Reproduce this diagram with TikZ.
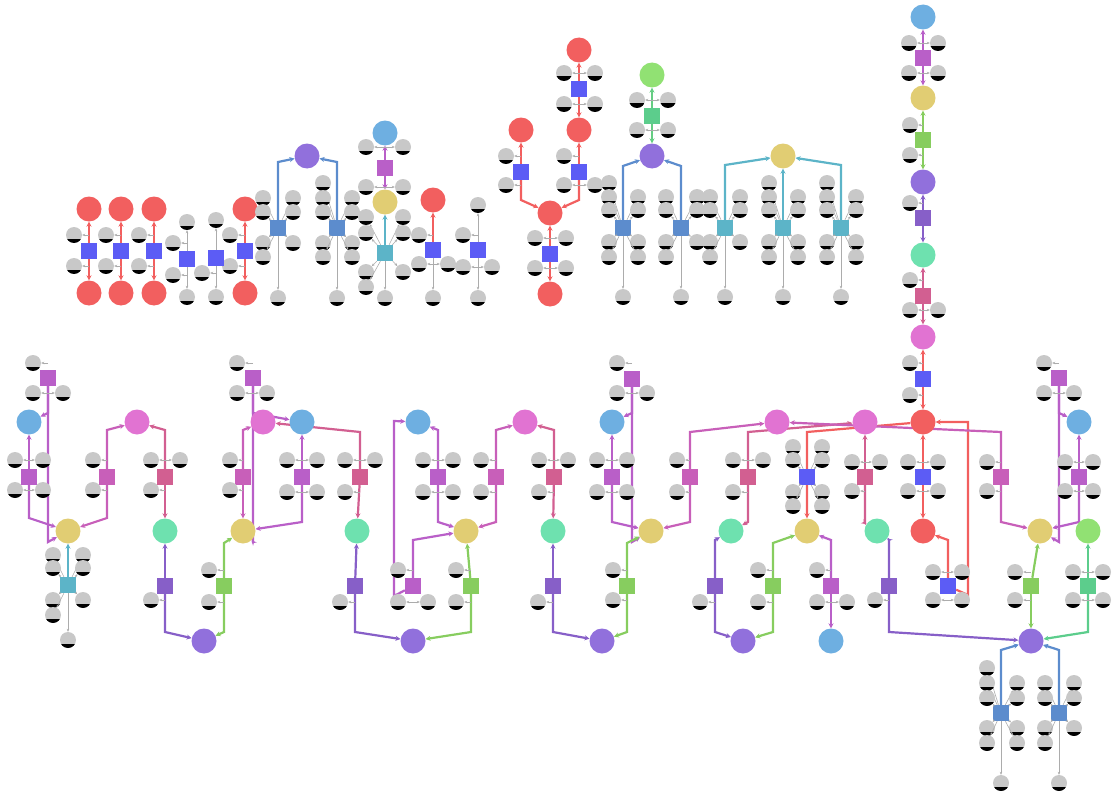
\documentclass[tikz,border=0pt]{standalone}
\usetikzlibrary{arrows.meta,backgrounds}
\definecolor{cred}{RGB}{242,95,95}
\definecolor{cblue}{RGB}{92,92,245}
\definecolor{csteel}{RGB}{92,140,205}
\definecolor{cviolet}{RGB}{145,112,220}
\definecolor{csky}{RGB}{110,175,225}
\definecolor{cyel}{RGB}{225,205,115}
\definecolor{corchid}{RGB}{185,95,200}
\definecolor{ccyan}{RGB}{92,180,200}
\definecolor{clime}{RGB}{145,225,115}
\definecolor{cgreen}{RGB}{135,205,95}
\definecolor{cmint}{RGB}{110,225,175}
\definecolor{cteal}{RGB}{92,205,140}
\definecolor{cpink}{RGB}{225,115,210}
\definecolor{cmag}{RGB}{200,95,185}
\definecolor{crose}{RGB}{210,95,145}
\definecolor{cindigo}{RGB}{135,95,200}
\definecolor{ctok}{RGB}{200,200,200}
% side tokens with a short stub, fan tokens, and one token straight above/below
\newcommand{\tks}[2]{\foreach \dx/\dy [count=\i] in {#2} {\node[tok] (#1t\i) at ([shift={(\dx,\dy)}]#1) {}; \draw[gline] (#1 |- #1t\i) -- (#1t\i);}}
\newcommand{\tkf}[2]{\foreach \dx/\dy [count=\i] in {#2} {\node[tok] (#1t\i) at ([shift={(\dx,\dy)}]#1) {}; \draw[gline] (#1) -- (#1t\i);}}
\newcommand{\tkb}[3]{\node[tok] (#1#2) at ([shift={(0,#3)}]#1) {}; \draw[gline] (#1) -- (#1#2);}
\begin{document}
\begin{tikzpicture}[x=1pt,y=-1pt,
    pl/.style={circle, minimum size=25pt, inner sep=0pt},
    tr/.style={rectangle, minimum size=16pt, inner sep=0pt},
    tok/.style={circle, minimum size=16pt, inner sep=0pt, fill=ctok,
        path picture={\fill[black] ([yshift=-3.5pt]path picture bounding box.west) rectangle (path picture bounding box.south east);}},
    gline/.style={draw=gray!65, line width=0.6pt, -{Stealth[length=3pt,width=2.5pt]}},
    ed/.style={line width=2.2pt, -{Stealth[length=5pt,width=5pt]}}
]
    \useasboundingbox (0,0) rectangle (1112,792);

    % top left: red columns
    \node[pl,fill=cred] (ra1) at (89,209) {};
    \node[tr,fill=cblue] (sa) at (89,251) {};
    \node[pl,fill=cred] (ra2) at (89,293) {};
    \node[pl,fill=cred] (rb1) at (121,209) {};
    \node[tr,fill=cblue] (sb) at (121,251) {};
    \node[pl,fill=cred] (rb2) at (121,293) {};
    \node[pl,fill=cred] (rc1) at (154,209) {};
    \node[tr,fill=cblue] (sc) at (154,251) {};
    \node[pl,fill=cred] (rc2) at (154,293) {};
    \node[pl,fill=cred] (rd1) at (245,209) {};
    \node[tr,fill=cblue] (sd) at (245,251) {};
    \node[pl,fill=cred] (rd2) at (245,293) {};
    \tks{sa}{-15/-16,-15/15}
    \tks{sb}{-15/-16,-15/15}
    \tks{sc}{-15/-16,-15/15}
    \tks{sd}{-15/-16,-15/15}
    \node[tr,fill=cblue] (se) at (187,259) {};
    \tks{se}{-14/-16,-14/16}
    \tkb{se}{u}{-37} \tkb{se}{b}{38}
    \node[tr,fill=cblue] (sf) at (216,258) {};
    \tks{sf}{-14/15}
    \tkb{sf}{u}{-38} \tkb{sf}{b}{39}

    % two steel transitions into violet
    \node[pl,fill=cviolet] (pv1) at (307,156) {};
    \node[tr,fill=csteel] (sg) at (278,228) {};
    \node[tr,fill=csteel] (sh) at (337,228) {};
    \tkf{sg}{-15/-30,15/-30,-15/-16,15/-16,-15/15,15/15,-15/29}
    \tkb{sg}{b}{70}
    \tkf{sh}{-14/-45,-14/-30,15/-30,-14/-16,15/-16,-14/15,15/15,-14/29,15/29}
    \tkb{sh}{b}{70}

    % sky / yellow stack
    \node[pl,fill=csky] (bc1) at (385,133) {};
    \node[tr,fill=corchid] (si) at (385,168) {};
    \node[pl,fill=cyel] (yc1) at (385,202) {};
    \node[tr,fill=ccyan] (sj) at (385,253) {};
    \tks{si}{-19/-21,18/-21,-19/19,18/19}
    \tkf{sj}{-19/-36,18/-36,-19/-20,18/-20,-19/19,18/19,-19/34}
    \tkb{sj}{b}{45}

    \node[pl,fill=cred] (rc5) at (433,200) {};
    \node[tr,fill=cblue] (sk) at (433,250) {};
    \tks{sk}{-14/-15,-14/14,15/14}
    \tkb{sk}{b}{48}
    \node[tr,fill=cblue] (sl) at (478,250) {};
    \tks{sl}{-15/-15,-15/17,14/17}
    \tkb{sl}{u}{-45} \tkb{sl}{b}{48}

    % red tree
    \node[pl,fill=cred] (rt1) at (579,50) {};
    \node[tr,fill=cblue] (sm) at (579,89) {};
    \node[pl,fill=cred] (rt2) at (579,130) {};
    \node[tr,fill=cblue] (sn) at (579,172) {};
    \node[pl,fill=cred] (rt3) at (521,130) {};
    \node[tr,fill=cblue] (so) at (521,172) {};
    \node[pl,fill=cred] (rt4) at (550,213) {};
    \node[tr,fill=cblue] (sp) at (550,254) {};
    \node[pl,fill=cred] (rt5) at (550,294) {};
    \tks{sm}{-15/-16,16/-16,-15/15,16/15}
    \tks{sn}{-15/-16,-15/13,16/13}
    \tks{so}{-15/-16,-15/13}
    \tks{sp}{-15/-16,16/-16,-15/14,16/14}

    % lime / violet group
    \node[pl,fill=clime] (gc1) at (652,75) {};
    \node[tr,fill=cteal] (sq) at (652,116) {};
    \node[pl,fill=cviolet] (pv2) at (652,156) {};
    \tks{sq}{-15/-16,16/-16,-15/14,16/14}
    \node[tr,fill=csteel] (sr) at (623,228) {};
    \node[tr,fill=csteel] (ss) at (681,228) {};
    \tkf{sr}{-14/-45,-14/-31,15/-31,-14/-18,15/-18,-14/14,15/14,-14/29,15/29}
    \tkb{sr}{b}{69}
    \tkf{ss}{-15/-31,16/-31,-15/-18,16/-18,-15/14,16/14,-15/29}
    \tkb{ss}{b}{69}

    % cyan transitions into yellow
    \node[pl,fill=cyel] (yc2) at (783,156) {};
    \node[tr,fill=ccyan] (st) at (725,228) {};
    \node[tr,fill=ccyan] (su) at (783,228) {};
    \node[tr,fill=ccyan] (sv) at (841,228) {};
    \tkf{st}{-15/-31,15/-31,-15/-18,15/-18,-15/14,15/14,-15/29}
    \tkb{st}{b}{69}
    \tkf{su}{-14/-45,-14/-31,15/-31,-14/-18,15/-18,-14/14,15/14,-14/29,15/29}
    \tkb{su}{b}{69}
    \tkf{sv}{-14/-45,-14/-31,15/-31,-14/-18,15/-18,-14/14,15/14,-14/29,15/29}
    \tkb{sv}{b}{69}

    % right column
    \node[pl,fill=csky] (bc2) at (923,17) {};
    \node[tr,fill=corchid] (sw) at (923,58) {};
    \node[pl,fill=cyel] (yc3) at (923,98) {};
    \node[tr,fill=cgreen] (sx) at (923,140) {};
    \node[pl,fill=cviolet] (pv3) at (923,182) {};
    \node[tr,fill=cindigo] (sy) at (923,218) {};
    \node[pl,fill=cmint] (mc1) at (923,255) {};
    \node[tr,fill=crose] (sz) at (923,296) {};
    \node[pl,fill=cpink] (pk1) at (923,337) {};
    \node[tr,fill=cblue] (sA) at (923,379) {};
    \node[pl,fill=cred] (rc6) at (923,422) {};
    \tks{sw}{-14/-15,15/-15,-14/15,15/15}
    \tks{sx}{-13/-15,-13/15}
    \tks{sy}{-13/-15}
    \tks{sz}{-13/-16,-13/14,15/14}
    \tks{sA}{-13/-16,-13/16}

    % lower band, first part
    \node[tr,fill=corchid] (sB) at (48,378) {};
    \node[pl,fill=csky] (bc3) at (29,422) {};
    \node[tr,fill=corchid] (sC) at (29,477) {};
    \node[pl,fill=cyel] (yc4) at (68,531) {};
    \node[tr,fill=ccyan] (sD) at (68,585) {};
    \node[tr,fill=cmag] (sE) at (107,477) {};
    \node[pl,fill=cpink] (pk2) at (137,422) {};
    \node[tr,fill=crose] (sF) at (165,477) {};
    \node[pl,fill=cmint] (mc2) at (165,531) {};
    \node[tr,fill=cindigo] (sG) at (165,586) {};
    \node[pl,fill=cviolet] (pv4) at (204,641) {};
    \node[tr,fill=cgreen] (sH) at (224,586) {};
    \node[pl,fill=cyel] (yc5) at (243,531) {};
    \node[tr,fill=corchid] (sI) at (253,378) {};
    \node[tr,fill=cmag] (sJ) at (243,477) {};
    \node[pl,fill=cpink] (pk3) at (263,422) {};
    \node[pl,fill=csky] (bc4) at (302,422) {};
    \node[tr,fill=corchid] (sK) at (302,477) {};
    \node[tr,fill=crose] (sL) at (360,477) {};
    \node[pl,fill=cmint] (mc3) at (357,531) {};
    \node[tr,fill=cindigo] (sM) at (355,586) {};
    \node[pl,fill=cviolet] (pv5) at (413,641) {};
    \tks{sB}{-15/-15,-15/15,15/15}
    \tks{sC}{-14/-17,14/-17,-14/13,14/13}
    \tkf{sD}{-15/-30,15/-30,-15/-17,15/-17,-15/15,15/15,-15/30}
    \tkb{sD}{b}{55}
    \tks{sE}{-14/-17,-14/13}
    \tks{sF}{-14/-17,15/-17,-14/13}
    \tks{sG}{-14/14}
    \tks{sH}{-15/-16,-15/16}
    \tks{sI}{-16/-15,-16/15,14/15}
    \tks{sJ}{-13/-17,-13/13}
    \tks{sK}{-15/-17,15/-17,-15/15,15/15}
    \tks{sL}{-15/-17,15/-17,-15/15}
    \tks{sM}{-15/16}

    % lower band, second part
    \node[pl,fill=csky] (bc5) at (418,422) {};
    \node[tr,fill=corchid] (sN) at (438,477) {};
    \node[tr,fill=cmag] (sO) at (496,477) {};
    \node[pl,fill=cpink] (pk4) at (525,422) {};
    \node[pl,fill=cyel] (yc6) at (466,531) {};
    \node[tr,fill=corchid] (sP) at (413,586) {};
    \node[tr,fill=cgreen] (sQ) at (471,586) {};
    \node[tr,fill=crose] (sR) at (554,477) {};
    \node[pl,fill=cmint] (mc4) at (553,531) {};
    \node[tr,fill=cindigo] (sS) at (553,586) {};
    \node[pl,fill=cviolet] (pv6) at (602,641) {};
    \node[tr,fill=corchid] (sT) at (632,379) {};
    \node[pl,fill=csky] (bc6) at (612,422) {};
    \node[tr,fill=corchid] (sU) at (612,477) {};
    \node[pl,fill=cyel] (yc7) at (651,531) {};
    \node[tr,fill=cgreen] (sV) at (627,586) {};
    \node[tr,fill=cmag] (sW) at (690,477) {};
    \tks{sN}{-15/-17,15/-17,-15/15,15/15}
    \tks{sO}{-15/-17,-15/15}
    \tks{sP}{-15/-16,-15/16,15/16}
    \tks{sQ}{-15/-16,-15/16}
    \tks{sR}{-15/-17,14/-17,-15/15}
    \tks{sS}{-15/16}
    \tks{sT}{-15/-16,-15/14,15/14}
    \tks{sU}{-15/-17,15/-17,-15/15,15/15}
    \tks{sV}{-14/-16,-14/14}
    \tks{sW}{-13/-17,-13/15}

    % lower band, third part
    \node[pl,fill=cpink] (pk5) at (777,422) {};
    \node[tr,fill=crose] (sX) at (748,477) {};
    \node[pl,fill=cmint] (mc5) at (731,531) {};
    \node[tr,fill=cblue] (sY) at (807,477) {};
    \node[pl,fill=cyel] (yc8) at (807,531) {};
    \node[tr,fill=cindigo] (sZ) at (715,586) {};
    \node[pl,fill=cviolet] (pv7) at (743,641) {};
    \node[tr,fill=cgreen] (sAA) at (773,586) {};
    \node[tr,fill=corchid] (sAB) at (831,586) {};
    \node[pl,fill=csky] (bc7) at (831,641) {};
    \node[pl,fill=cpink] (pk6) at (865,422) {};
    \node[tr,fill=crose] (sAC) at (865,477) {};
    \node[pl,fill=cmint] (mc6) at (877,531) {};
    \node[tr,fill=cblue] (sAD) at (923,477) {};
    \node[pl,fill=cred] (rc7) at (923,531) {};
    \node[tr,fill=cblue] (sAE) at (948,586) {};
    \node[tr,fill=cindigo] (sAF) at (889,586) {};
    \tks{sX}{-15/-17,15/-17,-15/15}
    \tkf{sY}{-14/-30,15/-30,-14/-17,15/-17,-14/15,15/15,-14/29,15/29}
    \tks{sZ}{-15/16}
    \tks{sAA}{-15/-16,-15/16}
    \tks{sAB}{-14/-16,-14/16,16/16}
    \tks{sAC}{-13/-15,15/-15,-13/14}
    \tks{sAD}{-15/-15,15/-15,-15/14,15/14}
    \tks{sAE}{-15/-14,14/-14,-15/14,14/14}
    \tks{sAF}{-14/14}

    % lower band, right part
    \node[pl,fill=cviolet] (pv8) at (1031,641) {};
    \node[tr,fill=cmag] (sAG) at (1001,477) {};
    \node[pl,fill=cyel] (yc9) at (1040,531) {};
    \node[tr,fill=corchid] (sAH) at (1059,378) {};
    \node[pl,fill=csky] (bc8) at (1079,422) {};
    \node[tr,fill=corchid] (sAI) at (1079,477) {};
    \node[pl,fill=clime] (lc2) at (1088,531) {};
    \node[tr,fill=cgreen] (sAJ) at (1031,586) {};
    \node[tr,fill=cteal] (sAK) at (1088,586) {};
    \node[tr,fill=csteel] (sAL) at (1001,713) {};
    \node[tr,fill=csteel] (sAM) at (1059,713) {};
    \tks{sAG}{-14/-15,-14/14}
    \tks{sAH}{-15/-15,-15/15,15/15}
    \tks{sAI}{-14/-15,14/-15,-14/14,14/14}
    \tks{sAJ}{-16/-14,-16/14}
    \tks{sAK}{-15/-14,15/-14,-15/14,15/14}
    \tkf{sAL}{-14/-45,-14/-30,16/-30,-14/-15,16/-15,-14/15,16/15,-14/30,16/30}
    \tkb{sAL}{b}{70}
    \tkf{sAM}{-14/-30,15/-30,-14/-15,15/-15,-14/15,15/15,-14/30}
    \tkb{sAM}{b}{70}

    \begin{scope}[on background layer]
    % top part
    \draw[ed,cred] (sa) -- (ra1); \draw[ed,cred] (sa) -- (ra2);
    \draw[ed,cred] (sb) -- (rb1); \draw[ed,cred] (sb) -- (rb2);
    \draw[ed,cred] (sc) -- (rc1); \draw[ed,cred] (sc) -- (rc2);
    \draw[ed,cred] (sd) -- (rd1); \draw[ed,cred] (sd) -- (rd2);
    \draw[ed,csteel] (sg) -- ++(0,-66) -- (pv1);
    \draw[ed,csteel] (sh) -- ++(0,-66) -- (pv1);
    \draw[ed,corchid] (si) -- (bc1); \draw[ed,corchid] (si) -- (yc1);
    \draw[ed,ccyan] (sj) -- (yc1);
    \draw[ed,cred] (sk) -- (rc5);
    \draw[ed,cred] (sm) -- (rt1); \draw[ed,cred] (sm) -- (rt2);
    \draw[ed,cred] (sn) -- (rt2); \draw[ed,cred] (sn) -- ++(0,28) -- (rt4);
    \draw[ed,cred] (so) -- (rt3); \draw[ed,cred] (so) -- ++(0,28) -- (rt4);
    \draw[ed,cred] (sp) -- (rt4); \draw[ed,cred] (sp) -- (rt5);
    \draw[ed,cteal!80!cgreen] (sq) -- (gc1); \draw[ed,cteal!80!cgreen] (sq) -- (pv2);
    \draw[ed,csteel] (sr) -- ++(0,-62) -- (pv2);
    \draw[ed,csteel] (ss) -- ++(0,-62) -- (pv2);
    \draw[ed,ccyan] (st) -- ++(0,-63) -- (yc2);
    \draw[ed,ccyan] (su) -- (yc2);
    \draw[ed,ccyan] (sv) -- ++(0,-63) -- (yc2);
    \draw[ed,corchid] (sw) -- (bc2); \draw[ed,corchid] (sw) -- (yc3);
    \draw[ed,cgreen] (sx) -- (yc3); \draw[ed,cgreen] (sx) -- (pv3);
    \draw[ed,cindigo] (sy) -- (pv3); \draw[ed,cindigo] (sy) -- (mc1);
    \draw[ed,crose] (sz) -- (mc1); \draw[ed,crose] (sz) -- (pk1);
    \draw[ed,cred] (sA) -- (pk1); \draw[ed,cred] (sA) -- (rc6);
    % lower band
    \draw[ed,corchid] (sB) -- ++(0,35) -- (bc3);
    \draw[ed,corchid] (sB) -- ++(0,164) -- (yc4);
    \draw[ed,corchid] (sC) -- (bc3); \draw[ed,corchid] (sC) -- ++(0,41) -- (yc4);
    \draw[ed,ccyan] (sD) -- (yc4);
    \draw[ed,cmag] (sE) -- ++(0,-47) -- (pk2); \draw[ed,cmag] (sE) -- ++(0,41) -- (yc4);
    \draw[ed,crose] (sF) -- ++(0,-47) -- (pk2); \draw[ed,crose] (sF) -- (mc2);
    \draw[ed,cindigo] (sG) -- (mc2); \draw[ed,cindigo] (sG) -- ++(0,46) -- (pv4);
    \draw[ed,cgreen] (sH) -- ++(0,46) -- (pv4); \draw[ed,cgreen] (sH) -- ++(0,-43) -- (yc5);
    \draw[ed,corchid] (sI) -- ++(0,35) -- (bc4);
    \draw[ed,corchid] (sI) -- ++(0,164) -- (yc5);
    \draw[ed,cmag] (sJ) -- ++(0,-47) -- (pk3); \draw[ed,cmag] (sJ) -- (yc5);
    \draw[ed,corchid] (sK) -- (bc4); \draw[ed,corchid] (sK) -- ++(0,45) -- (yc5);
    \draw[ed,crose] (sL) -- ++(0,-45) -- (pk3); \draw[ed,crose] (sL) -- (mc3);
    \draw[ed,cindigo] (sM) -- (mc3); \draw[ed,cindigo] (sM) -- ++(0,46) -- (pv5);
    \draw[ed,corchid] (sN) -- ++(0,-47) -- (bc5); \draw[ed,corchid] (sN) -- ++(0,45) -- (yc6);
    \draw[ed,cmag] (sO) -- ++(0,-47) -- (pk4); \draw[ed,cmag] (sO) -- ++(0,45) -- (yc6);
    \draw[ed,corchid] (sP) -- ++(0,-46) -- (yc6);
    \draw[ed,corchid] (sP) -- ++(-19,10) -- ++(0,-175) -- (bc5);
    \draw[ed,cgreen] (sQ) -- (yc6); \draw[ed,cgreen] (sQ) -- ++(0,46) -- (pv5);
    \draw[ed,crose] (sR) -- ++(0,-47) -- (pk4); \draw[ed,crose] (sR) -- (mc4);
    \draw[ed,cindigo] (sS) -- (mc4); \draw[ed,cindigo] (sS) -- ++(0,46) -- (pv6);
    \draw[ed,corchid] (sT) -- ++(0,34) -- (bc6);
    \draw[ed,corchid] (sT) -- ++(0,163) -- (yc7);
    \draw[ed,corchid] (sU) -- (bc6); \draw[ed,corchid] (sU) -- ++(0,45) -- (yc7);
    \draw[ed,cgreen] (sV) -- ++(0,-43) -- (yc7); \draw[ed,cgreen] (sV) -- ++(0,46) -- (pv6);
    \draw[ed,cmag] (sW) -- ++(0,-45) -- (pk5); \draw[ed,cmag] (sW) -- ++(0,45) -- (yc7);
    \draw[ed,crose] (sX) -- ++(0,-45) -- (pk6); \draw[ed,crose] (sX) -- ++(0,45) -- (mc5);
    \draw[ed,cred] (rc6) -- ([yshift=-10pt]sY |- rc6) -- (yc8);
    \draw[ed,cindigo] (sZ) -- ++(0,-46) -- (mc5); \draw[ed,cindigo] (sZ) -- ++(0,46) -- (pv7);
    \draw[ed,cgreen] (sAA) -- ++(0,-43) -- (yc8); \draw[ed,cgreen] (sAA) -- ++(0,46) -- (pv7);
    \draw[ed,corchid] (sAB) -- ++(0,-46) -- (yc8); \draw[ed,corchid] (sAB) -- (bc7);
    \draw[ed,crose] (sAC) -- (pk6); \draw[ed,crose] (sAC) -- ++(0,46) -- (mc6);
    \draw[ed,cred] (sAD) -- (rc6); \draw[ed,cred] (sAD) -- (rc7);
    \draw[ed,cred] (sAE) -- ++(0,-46) -- (rc7);
    \draw[ed,cred] (sAE) -- ++(20,9) -- ++(0,-173) -- (rc6);
    \draw[ed,cindigo] (sAF) -- ++(0,-46) -- (mc6); \draw[ed,cindigo] (sAF) -- ++(0,46) -- (pv8);
    \draw[ed,cmag] (sAG) -- ++(0,-45) -- (pk5); \draw[ed,cmag] (sAG) -- ++(0,45) -- (yc9);
    \draw[ed,corchid] (sAH) -- ++(0,35) -- (bc8);
    \draw[ed,corchid] (sAH) -- ++(0,164) -- (yc9);
    \draw[ed,corchid] (sAI) -- (bc8); \draw[ed,corchid] (sAI) -- ++(0,45) -- (yc9);
    \draw[ed,cgreen] (sAJ) -- (yc9); \draw[ed,cgreen] (sAJ) -- (pv8);
    \draw[ed,cteal] (sAK) -- (lc2); \draw[ed,cteal] (sAK) -- ++(0,46) -- (pv8);
    \draw[ed,csteel] (sAL) -- ++(0,-63) -- (pv8);
    \draw[ed,csteel] (sAM) -- ++(0,-63) -- (pv8);
    \end{scope}
\end{tikzpicture}
\end{document}
